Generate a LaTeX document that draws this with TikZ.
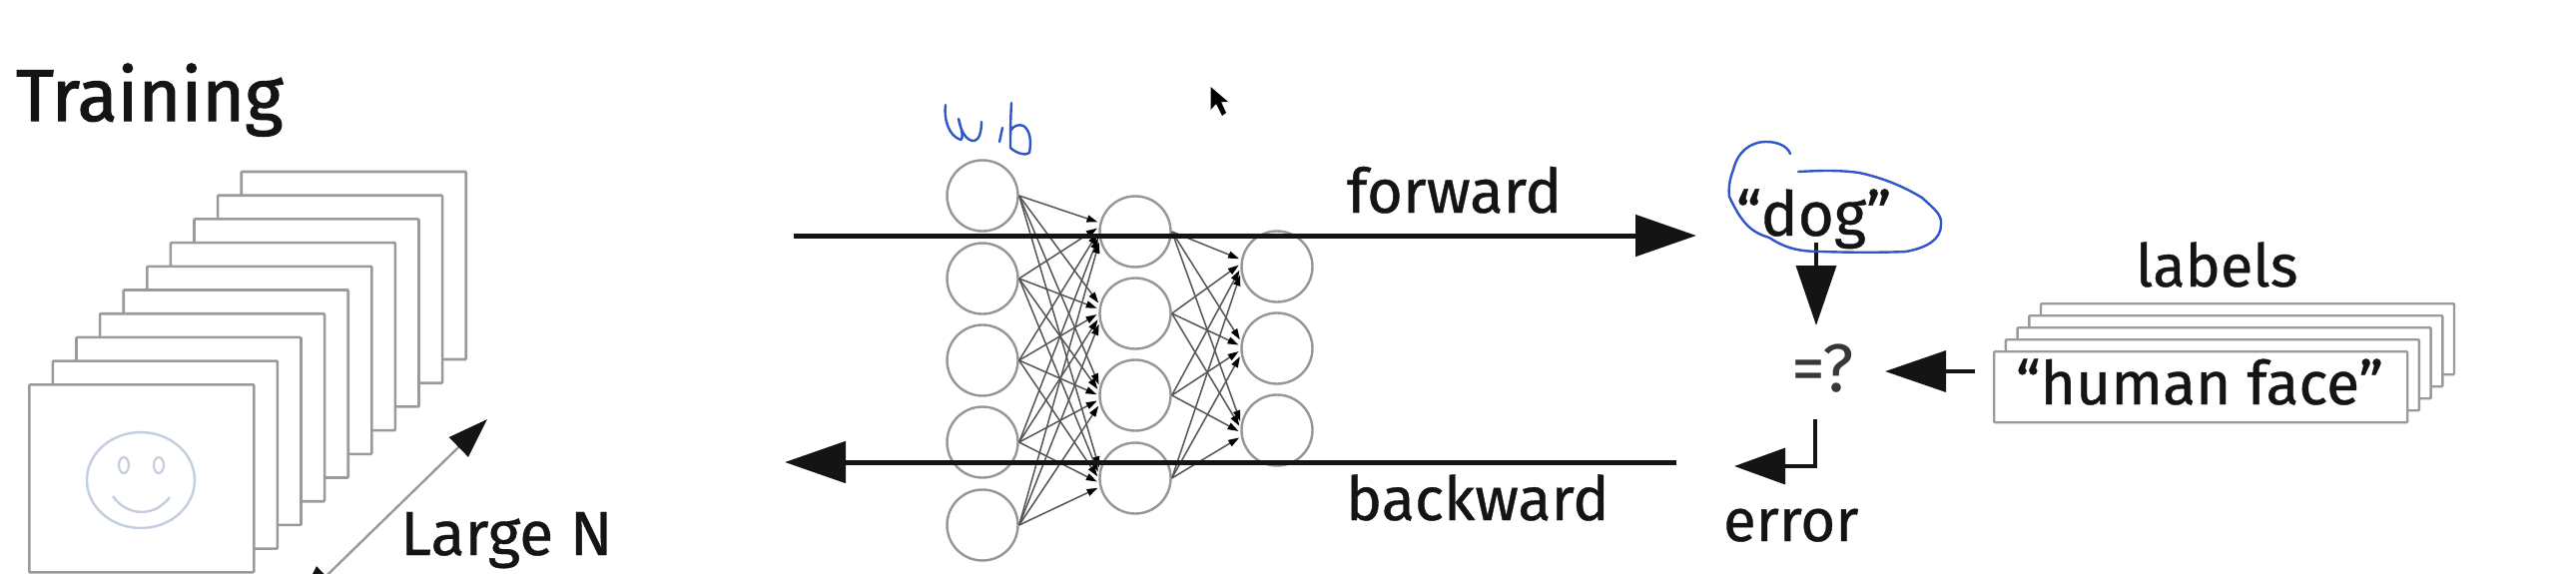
\documentclass[tikz,border=0pt]{standalone}
\usepackage{fontspec}
\setmainfont[FakeBold=0.6]{Fira Sans}
\newfontfamily\heavy[FakeBold=1.6]{Fira Sans}
\newfontfamily\thinface{Fira Sans}
\usetikzlibrary{arrows.meta,calc}
\definecolor{ink}{HTML}{141414}
\definecolor{pagegray}{HTML}{9A9A9A}
\definecolor{neuron}{HTML}{969696}
\definecolor{wire}{HTML}{555555}
\definecolor{marker}{HTML}{2F55C8}
\definecolor{smile}{HTML}{C3CEDF}
\tikzset{
  x=1pt,y=-1pt,
  txt/.style={anchor=base west,inner sep=0pt,outer sep=0pt,text=ink},
  pagebox/.style={draw=pagegray,fill=white,line width=2.6pt,rounded corners=1pt,anchor=north west,minimum width=225pt,minimum height=188pt,inner sep=0pt},
  labelbox/.style={draw=pagegray,fill=white,line width=2.4pt,rounded corners=1pt,anchor=north west,minimum width=414pt,minimum height=71pt,inner sep=0pt},
  neuronnode/.style={circle,draw=neuron,line width=2.4pt,minimum size=71pt,inner sep=0pt},
  wireline/.style={draw=wire,line width=1.5pt,-{Triangle[length=11pt,width=7pt,color=black]},shorten >=2pt},
  bigarrow/.style={draw=ink,line width=5pt,-{Triangle[length=61pt,width=41pt]}},
  midarrow/.style={draw=ink,line width=3.5pt,-{Triangle[length=60pt,width=40pt]}},
  pen/.style={draw=marker,line width=2.4pt,line cap=round,line join=round}
}
\begin{document}
\begin{tikzpicture}
\useasboundingbox (0,0) rectangle (2580,574);
\clip (0,0) rectangle (2580,574);
\fill[white] (0,0) rectangle (2580,574);
% title
\node[txt] (title) at (16,121) {\fontsize{73.5}{80}\heavy Training};
% stack of pages
\foreach \i in {9,...,0}{
  \node[pagebox] (page\i) at ({28+23.6*\i},{384-23.7*\i}) {};
}
\draw[smile,line width=2.4pt] (141,481) ellipse [x radius=54,y radius=48];
\draw[smile,line width=2.2pt] (124,466) ellipse [x radius=5,y radius=8];
\draw[smile,line width=2.2pt] (159,466) ellipse [x radius=5,y radius=8];
\draw[smile,line width=2.4pt] (113,497) .. controls (128,518) and (155,518) .. (170,498);
% Large N arrow
\coordinate (nfar) at (488,420);
\coordinate (nnear) at (298,605);
\draw[draw=pagegray,line width=2.4pt,{Triangle[length=40pt,width=27pt,color=ink]}-{Triangle[length=40pt,width=27pt,color=ink]}] (nnear) -- (nfar);
\node[txt] (large) at (401,556) {\fontsize{62.5}{66}\selectfont Large N};
% network
\foreach \i/\y in {1/196,2/279,3/361,4/443,5/526}{\node[neuronnode] (a\i) at (984,\y) {};}
\foreach \i/\y in {1/232,2/314,3/396,4/479}{\node[neuronnode] (b\i) at (1137,\y) {};}
\foreach \i/\y in {1/267,2/349,3/431}{\node[neuronnode] (c\i) at (1279,\y) {};}
\foreach \i in {1,...,5}{\foreach \j in {1,...,4}{
  \pgfmathtruncatemacro{\ang}{180-(3-\i)*7}
  \draw[wireline] (a\i.east) -- (b\j.\ang);
}}
\foreach \i in {1,...,4}{\foreach \j in {1,...,3}{
  \pgfmathtruncatemacro{\ang}{180-(2.5-\i)*7}
  \draw[wireline] (b\i.east) -- (c\j.\ang);
}}
% forward / backward
\coordinate (fstart) at (795,236);
\coordinate (ftip) at (1699,236);
\coordinate (bstart) at (1679,463);
\coordinate (btip) at (786,463);
\draw[bigarrow] (fstart) -- (ftip);
\draw[bigarrow] (bstart) -- (btip);
\node[txt] (forward) at (1349,213) {\fontsize{61.5}{66}\selectfont forward};
\node[txt] (backward) at (1348,521) {\fontsize{61}{66}\selectfont backward};
% dog
\node[txt] (dog) at (1739,236) {\fontsize{62}{66}\selectfont “dog”};
\node[txt] (cmp) at (1794,392) {\fontsize{68}{72}\thinface\color{ink!85}=?};
\node[txt] (err) at (1726,542) {\fontsize{60}{64}\selectfont error};
\coordinate (dogout) at (1819,243);
\coordinate (cmpin) at (1819,326);
\draw[midarrow] (dogout) -- (cmpin);
\coordinate (cmpout) at (1818,420);
\coordinate (errtip) at (1737,467);
\draw[draw=ink,line width=3.5pt,-{Triangle[length=51pt,width=36pt]}] (cmpout) |- (errtip);
% labels
\node[txt] (lab) at (2139,287) {\fontsize{59.5}{64}\selectfont labels};
\foreach \i in {4,...,0}{
  \node[labelbox] (box\i) at ({1996+11.7*\i},{351-12*\i}) {};
}
\node[txt] (hf) at (2019,405) {\fontsize{60.5}{64}\selectfont “human face”};
\coordinate (cmpright) at (1888,372);
\draw[draw=ink,line width=3.5pt,-{Triangle[length=61pt,width=41pt]}] (box0.west |- cmpright) ++(-18,0) -- (cmpright);
% handwriting
\draw[pen] (1793,154) .. controls (1790,146) and (1780,142) .. (1769,142) .. controls (1752,142) and (1740,153) .. (1736,170) .. controls (1732,180) and (1731,190) .. (1732,197) .. controls (1745,225) and (1755,233) .. (1772,238) .. controls (1790,250) and (1805,252) .. (1825,252) .. controls (1850,253) and (1890,253) .. (1909,252) .. controls (1930,248) and (1944,240) .. (1944,225) .. controls (1945,215) and (1938,210) .. (1925,198) .. controls (1905,186) and (1885,178) .. (1862,173) .. controls (1840,170) and (1820,171) .. (1801,172);
\draw[pen] (947,105) .. controls (945,119) and (950,136) .. (962,140) .. controls (966,139) and (962,126) .. (960,119) .. controls (962,131) and (968,142) .. (976,141) .. controls (981,140) and (983,131) .. (983,122);
\draw[pen] (1004,128) -- (1001,142);
\draw[pen] (1013,103) .. controls (1012,120) and (1012,135) .. (1012,148) .. controls (1018,154) and (1028,156) .. (1031,153) .. controls (1033,141) and (1032,131) .. (1025,126) .. controls (1020,124) and (1015,126) .. (1012,131);
% cursor
\fill[black] (1212.5,87) -- (1212.5,110) -- (1218,104) -- (1224,116) -- (1228,113) -- (1223,102) -- (1230,102) -- cycle;
\end{tikzpicture}
\end{document}
